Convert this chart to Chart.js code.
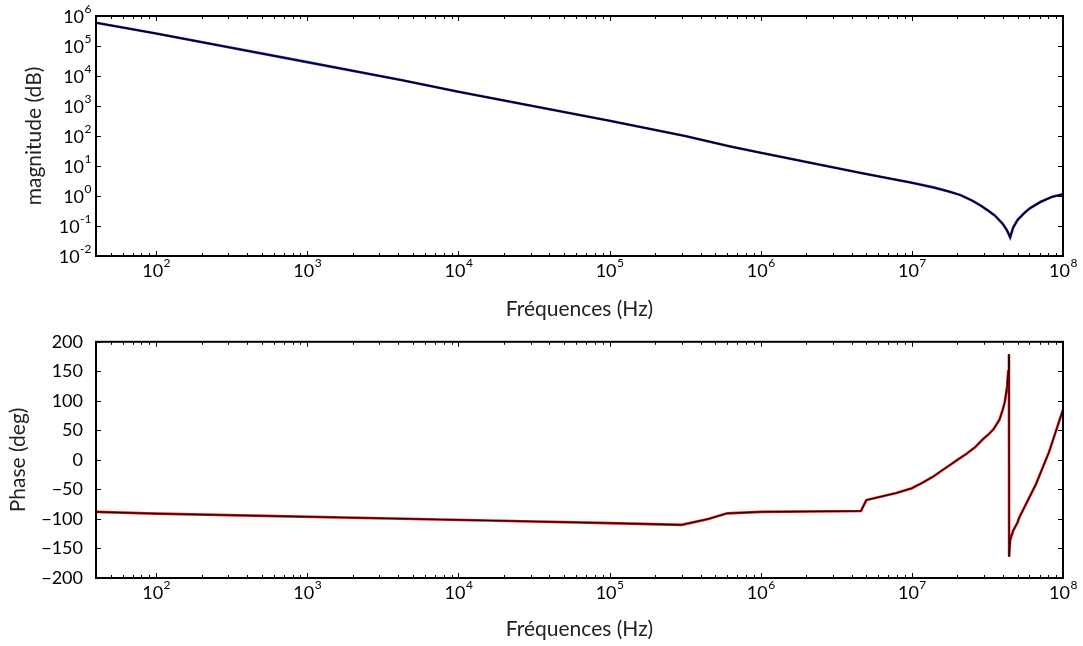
<!DOCTYPE html>
<html>
<head>
<meta charset="utf-8">
<script src="https://cdn.jsdelivr.net/npm/chart.js@4.4.1/dist/chart.umd.min.js"></script>
<style>
  body { margin: 0; background: #fff; }
  .box { position: absolute; left: 0; }
</style>
</head>
<body>
<div class="box" style="top:0"><canvas id="magChart" width="1083" height="326"></canvas></div>
<div class="box" style="top:326px"><canvas id="phaseChart" width="1083" height="320"></canvas></div>
<script>
// values
const magFreq  = [40, 100, 1000, 4170, 1e4, 1e5, 3.16e5, 6.3e5, 1e6, 4.7e6, 1e7, 1.41e7, 1.78e7, 2.1e7,
                  2.51e7, 2.82e7, 3.16e7, 3.55e7, 3.98e7, 4.27e7, 4.47e7, 4.68e7, 5.01e7, 5.5e7,
                  6.03e7, 7.08e7, 8.51e7, 1e8];
const magValue = [6.0e5, 2.6e5, 2.9e4, 7400, 3000, 320, 100, 45, 27.5, 5.75, 2.75, 1.9, 1.38, 1.07,
                  0.7, 0.5, 0.34, 0.22, 0.12, 0.07, 0.042, 0.089, 0.16, 0.26,
                  0.39, 0.63, 0.95, 1.15];

const phaseFreq  = [40, 100, 1.86e4, 1e5, 3e5, 4.5e5, 6e5, 1e6, 4.6e6, 5.0e6, 7.9e6, 1e7, 1.17e7,
                    1.38e7, 1.58e7, 1.78e7, 2e7, 2.29e7, 2.63e7, 2.95e7, 3.24e7, 3.47e7, 3.8e7,
                    3.98e7, 4.12e7, 4.27e7, 4.34e7, 4.39e7, 4.40e7, 4.47e7, 4.68e7, 5.0e7, 5.13e7,
                    6.6e7, 8.1e7, 1e8];
const phaseValue = [-88, -91, -103, -107, -110, -100, -90.5, -88, -86.6, -68, -56, -48, -39,
                    -28.5, -18, -9, 0, 10, 22, 35, 44, 52, 68,
                    84, 98, 124, 150, 179, -164, -136, -120, -106, -98,
                    -42, 14, 85];

const xTickExp = [2, 3, 4, 5, 6, 7, 8];
const magTickExp = [-2, -1, 0, 1, 2, 3, 4, 5, 6];
const phaseTicks = [-200, -150, -100, -50, 0, 50, 100, 150, 200];

const FONT = 'Lato, "Open Sans", sans-serif';

function pts(xs, ys) { return xs.map((x, i) => ({ x: x, y: ys[i] })); }

function pow10Label(ctx, n, x, y, align) {
  const base = '18px ' + FONT, sup = '12px ' + FONT;
  ctx.font = base;
  const wb = ctx.measureText('10').width;
  ctx.font = sup;
  const we = ctx.measureText(String(n)).width;
  const left = align === 'center' ? x - (wb + we) / 2 : x - wb - we;
  ctx.textAlign = 'left';
  ctx.textBaseline = 'middle';
  ctx.fillStyle = '#000';
  ctx.font = base;
  ctx.fillText('10', left, y);
  ctx.font = sup;
  ctx.fillText(String(n), left + wb + 0.5, y - 8);
}

// frame, inward tick marks and 10^n labels
const frameTicks = {
  id: 'frameTicks',
  afterDraw(chart, args, opts) {
    const { ctx, chartArea: a, scales } = chart;
    const sx = scales.x, sy = scales.y;
    ctx.save();
    ctx.strokeStyle = '#000';
    ctx.lineWidth = 1;
    ctx.beginPath();
    for (let e = 1; e <= 8; e++) {
      for (let k = 1; k <= 9; k++) {
        const v = k * Math.pow(10, e);
        if (v < sx.min || v > sx.max) continue;
        const px = Math.round(sx.getPixelForValue(v)) + 0.5;
        const len = k === 1 ? 5 : 3;
        ctx.moveTo(px, a.bottom); ctx.lineTo(px, a.bottom - len);
        ctx.moveTo(px, a.top); ctx.lineTo(px, a.top + len);
      }
    }
    const yVals = opts.logY ? magTickExp.map(n => Math.pow(10, n)) : phaseTicks;
    for (const v of yVals) {
      const py = Math.round(sy.getPixelForValue(v)) + 0.5;
      ctx.moveTo(a.left, py); ctx.lineTo(a.left + 5, py);
      ctx.moveTo(a.right, py); ctx.lineTo(a.right - 5, py);
    }
    ctx.stroke();
    ctx.lineWidth = 2;
    ctx.strokeRect(a.left, a.top, a.right - a.left, a.bottom - a.top);

    for (const n of xTickExp) {
      pow10Label(ctx, n, sx.getPixelForValue(Math.pow(10, n)), a.bottom + 15, 'center');
    }
    if (opts.logY) {
      for (const n of magTickExp) {
        pow10Label(ctx, n, a.left - 5, sy.getPixelForValue(Math.pow(10, n)) + 1, 'right');
      }
    }
    ctx.restore();
  }
};

function xAxis(h) {
  return {
    type: 'logarithmic', min: 40, max: 1e8,
    grid: { display: false }, border: { display: false },
    ticks: { display: false },
    title: { display: true, text: 'Fréquences (Hz)', color: '#222', font: { family: FONT, size: 21 } },
    afterFit: s => { s.height = h; }
  };
}

const magChart = new Chart(document.getElementById('magChart'), {
  type: 'line',
  data: {
    datasets: [
      { data: pts(magFreq, magValue), borderColor: '#000', borderWidth: 1.5 },
      { data: pts(magFreq, magValue), borderColor: '#2a2ac8', borderWidth: 2.6 }
    ]
  },
  options: {
    responsive: false, animation: false, devicePixelRatio: 1,
    layout: { padding: { left: 18, right: 20, top: 16, bottom: 0 } },
    elements: { point: { radius: 0 }, line: { tension: 0 } },
    plugins: { legend: { display: false }, tooltip: { enabled: false }, frameTicks: { logY: true } },
    scales: {
      x: xAxis(70),
      y: {
        type: 'logarithmic', min: 1e-2, max: 1e6,
        grid: { display: false }, border: { display: false },
        ticks: { display: false },
        title: { display: true, text: 'magnitude (dB)', color: '#222', font: { family: FONT, size: 21 } },
        afterFit: s => { s.width = 78; }
      }
    }
  },
  plugins: [frameTicks]
});

const phaseChart = new Chart(document.getElementById('phaseChart'), {
  type: 'line',
  data: {
    datasets: [
      { data: pts(phaseFreq, phaseValue), borderColor: '#000', borderWidth: 1 },
      { data: pts(phaseFreq, phaseValue), borderColor: '#d41414', borderWidth: 2.6 }
    ]
  },
  options: {
    responsive: false, animation: false, devicePixelRatio: 1,
    layout: { padding: { left: 2, right: 20, top: 11, bottom: 0 } },
    elements: { point: { radius: 0 }, line: { tension: 0 } },
    plugins: { legend: { display: false }, tooltip: { enabled: false }, frameTicks: { logY: false } },
    scales: {
      x: xAxis(68),
      y: {
        min: -200, max: 200,
        grid: { display: false }, border: { display: false },
        ticks: {
          stepSize: 50, padding: 5, color: '#000', font: { family: FONT, size: 18 },
          callback: v => String(v).replace('-', '\u2212')
        },
        title: { display: true, text: 'Phase (deg)', color: '#222', font: { family: FONT, size: 21 } },
        afterFit: s => { s.width = 94; }
      }
    }
  },
  plugins: [frameTicks]
});
</script>
</body>
</html>
